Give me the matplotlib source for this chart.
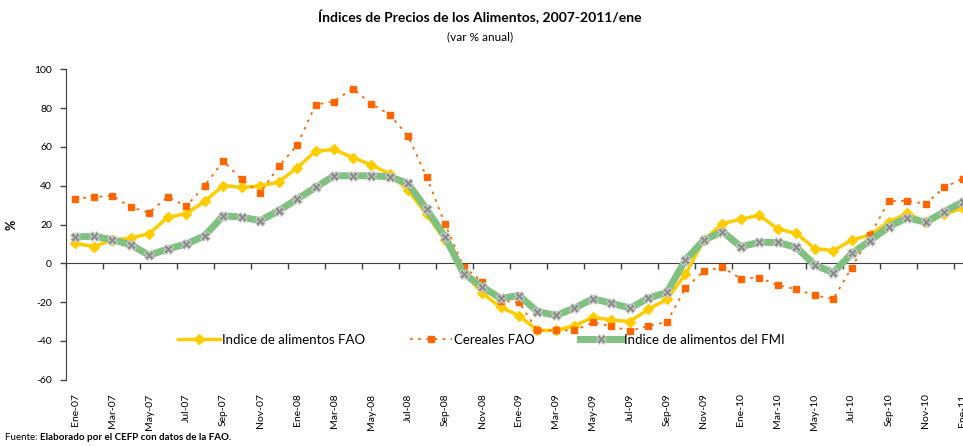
import matplotlib
matplotlib.use("Agg")
import matplotlib.pyplot as plt
import numpy as np

months = ["Ene", "Feb", "Mar", "Abr", "May", "Jun", "Jul", "Ago", "Sep", "Oct", "Nov", "Dic"]
categories = [f"{m}-{y:02d}" for y in range(7, 11) for m in months] + ["Ene-11"]

fao = [10.3, 8.6, 12.0, 13.0, 15.3, 23.7, 25.6, 31.9, 40.1, 39.1, 39.8, 41.9,
       49.2, 57.8, 58.7, 54.5, 50.8, 46.0, 37.7, 25.2, 12.0, -4.5, -15.3, -22.6,
       -27.0, -34.6, -34.6, -32.2, -27.8, -29.3, -30.0, -23.6, -18.6, -5.6, 12.0, 20.4,
       22.8, 24.7, 17.7, 15.4, 7.6, 6.5, 12.0, 14.6, 21.4, 25.7, 21.4, 25.4, 28.3]
cereales = [33.4, 34.1, 34.8, 29.0, 26.1, 34.3, 29.3, 40.0, 52.7, 43.2, 36.2, 49.9,
            60.9, 81.8, 83.4, 90.1, 82.3, 76.7, 65.5, 44.6, 20.2, -1.8, -9.4, -19.3,
            -20.2, -34.6, -34.6, -34.6, -30.5, -32.4, -34.8, -32.2, -30.3, -12.9, -3.9, -2.1,
            -7.9, -7.4, -11.3, -13.4, -16.5, -18.4, -2.2, 14.6, 32.1, 32.2, 30.7, 39.1, 43.7]
fmi = [13.6, 13.9, 12.2, 9.6, 4.1, 7.4, 9.9, 14.2, 24.5, 23.8, 22.0, 27.1,
       33.1, 39.1, 45.1, 45.1, 45.1, 44.6, 41.2, 27.8, 13.7, -5.3, -12.0, -18.1,
       -16.6, -24.9, -26.9, -23.1, -18.3, -20.5, -23.1, -18.0, -15.0, 1.7, 12.0, 16.3,
       8.6, 10.8, 10.8, 8.2, -0.9, -4.8, 5.1, 11.7, 18.9, 23.5, 21.1, 26.6, 31.7]

series_names = ["Indice de alimentos FAO", "Cereales FAO", "Indice de alimentos del FMI"]
yticks = list(range(-60, 101, 20))

plt.rcParams['font.family'] = ['Lato', 'DejaVu Sans']

fig = plt.figure(figsize=(9.63, 4.46), dpi=100)
ax = fig.add_axes([66/963, 66.3/446, (972-66)/963, 310.4/446])

x = np.arange(len(categories))
ax.plot(x, fao, color='#FFCC00', lw=2.5, marker='D', ms=5, mfc='#FFCC00', mec='#FFCC00',
        label=series_names[0], zorder=3)
ax.plot(x, cereales, color='#FF6600', lw=1.3, ls=(0, (1.5, 3)), marker='s', ms=5,
        mfc='#FF6600', mec='#FF6600', label=series_names[1], zorder=4)
ax.plot(x, fmi, color='#80C080', lw=5, marker='X', ms=7, mfc='#8A8A8A', mec='#D0D0D0', mew=0.7,
        label=series_names[2], zorder=5)

ax.set_xlim(-0.5, len(categories) - 0.5)
ax.set_ylim(-60, 100)
ax.set_yticks(yticks)
ax.set_yticklabels([str(v) for v in yticks], fontsize=7.5)
ax.tick_params(axis='y', direction='out', length=4, width=1, color='#404040', pad=6)

ax.spines['top'].set_visible(False)
ax.spines['right'].set_visible(False)
ax.spines['left'].set_color('#404040')
ax.spines['bottom'].set_position(('data', 0))
ax.spines['bottom'].set_color('#404040')
ax.set_xticks(np.arange(-0.5, len(categories), 2))
ax.set_xticklabels([])
ax.tick_params(axis='x', direction='out', length=4, width=1, color='#404040')

sec = ax.secondary_xaxis('bottom')
sec.set_xticks(x[::2])
sec.set_xticklabels(categories[::2], rotation=90, fontsize=7.5)
sec.tick_params(length=0, pad=10)
sec.spines['bottom'].set_visible(False)

ax.set_ylabel('%', fontsize=9, fontweight='bold', labelpad=12)

leg = ax.legend(loc='center', bbox_to_anchor=(0.4586, 0.128), ncol=3, frameon=False,
                fontsize=9.5, handlelength=3.2, columnspacing=3.4, handletextpad=0.15)

fig.text(0.498, 0.962, 'Índices de Precios de los Alimentos, 2007-2011/ene',
         ha='center', va='center', fontsize=10, fontweight='bold')
fig.text(0.498, 0.917, '(var % anual)', ha='center', va='center', fontsize=8.5)

t1 = fig.text(5/963, 1 - 438/446, 'Fuente: ', ha='left', va='center', fontsize=7)
fig.canvas.draw()
bb = t1.get_window_extent()
fig.text(bb.x1 / fig.bbox.width, 1 - 438/446, 'Elaborado por el CEFP con datos de la FAO.',
         ha='left', va='center', fontsize=7, fontweight='bold')

fig.savefig('out.png', dpi=100)
